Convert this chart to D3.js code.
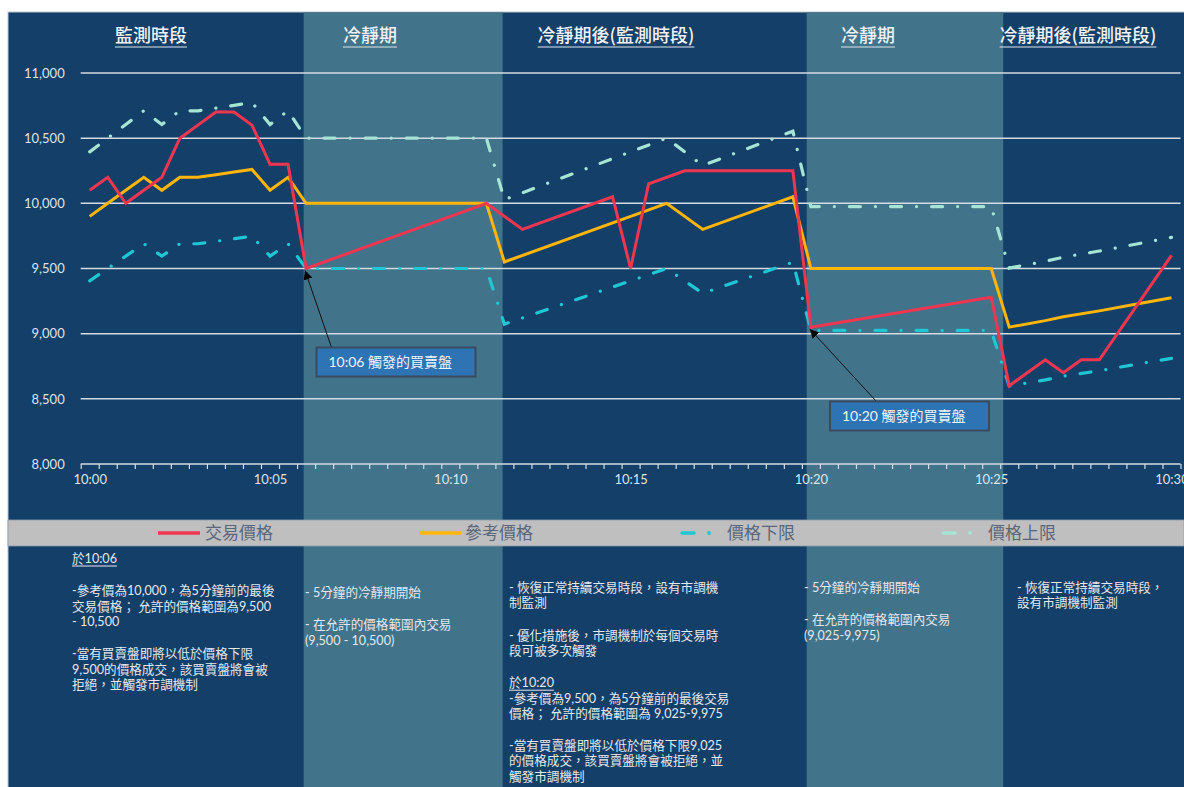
<!DOCTYPE html>
<html>
<head>
<meta charset="utf-8">
<script src="https://cdn.jsdelivr.net/npm/d3@7"></script>
<style>
  body { margin: 0; background: #fff; }
  svg { display: block; }
</style>
</head>
<body>
<svg width="1184" height="787"></svg>
<script>

// ---- data ----
var tradeTimes = ["10:00:00","10:00:30","10:01:00","10:01:30","10:02:00","10:02:30","10:03:00","10:03:30","10:04:00","10:04:30","10:05:00","10:05:30","10:06:00",
                  "10:11:00","10:12:00","10:14:30","10:15:00","10:15:30","10:16:30","10:19:30","10:20:00",
                  "10:25:00","10:25:30","10:26:30","10:27:00","10:27:30","10:28:00","10:30:00"];
var tradePrices = [10100,10200,10000,10100,10200,10500,10600,10700,10700,10600,10300,10300,9500,
                   10000,9800,10050,9500,10150,10250,10250,9050,
                   9280,8600,8800,8700,8800,8800,9600];

var refTimes = ["10:00:00","10:00:30","10:01:00","10:01:30","10:02:00","10:02:30","10:03:00","10:03:30","10:04:00","10:04:30","10:05:00","10:05:30","10:06:00",
                "10:11:00","10:11:30","10:16:00","10:17:00","10:19:30","10:20:00",
                "10:25:00","10:25:30","10:26:30","10:27:00","10:28:00","10:29:00","10:30:00"];
var refPrices = [9900,10000,10100,10200,10100,10200,10200,10220,10240,10260,10100,10200,10000,
                 10000,9550,10000,9800,10050,9500,
                 9500,9050,9100,9130,9175,9225,9275];
var lowerPrices = [9405,9500,9595,9690,9595,9690,9690,9709,9728,9747,9595,9690,9500,
                   9500,9073,9500,9310,9548,9025,
                   9025,8598,8645,8674,8716,8764,8811];
var upperPrices = [10395,10500,10605,10710,10605,10710,10710,10731,10752,10773,10605,10710,10500,
                   10500,10028,10500,10290,10553,9975,
                   9975,9503,9555,9587,9634,9686,9739];

var yTicks = [8000,8500,9000,9500,10000,10500,11000];
var xTickTimes = ["10:00:00","10:05:00","10:10:00","10:15:00","10:20:00","10:25:00","10:30:00"];
var xTickLabels = ["10:00","10:05","10:10","10:15","10:20","10:25","10:30"];

// cooling periods (shaded)
var coolStart = ["10:05:56","10:19:53"];
var coolEnd   = ["10:11:27","10:25:20"];

var headers = ["監測時段","冷靜期","冷靜期後(監測時段)","冷靜期","冷靜期後(監測時段)"];
var headerX = [151, 370, 616, 868, 1078];

var seriesNames = ["交易價格","參考價格","價格下限","價格上限"];
var seriesColors = ["#ee3650","#ffb50a","#1fc6d4","#a6e4d4"];

var notes = [
  ["於10:06", "", "-參考價為10,000，為5分鐘前的最後", "交易價格； 允許的價格範圍為9,500", "- 10,500", "",
   "-當有買賣盤即將以低於價格下限", "9,500的價格成交，該買賣盤將會被", "拒絕，並觸發市調機制"],
  ["- 5分鐘的冷靜期開始", "", "- 在允許的價格範圍內交易", "(9,500 - 10,500)"],
  ["- 恢復正常持續交易時段，設有市調機", "制監測", "", "- 優化措施後，市調機制於每個交易時", "段可被多次觸發", "",
   "於10:20", "-參考價為9,500，為5分鐘前的最後交易", "價格； 允許的價格範圍為 9,025-9,975", "",
   "-當有買賣盤即將以低於價格下限9,025", "的價格成交，該買賣盤將會被拒絕，並", "觸發市調機制"],
  ["- 5分鐘的冷靜期開始", "", "- 在允許的價格範圍內交易", "(9,025-9,975)"],
  ["- 恢復正常持續交易時段，", "設有市調機制監測"]
];
var noteX = [72, 305, 509, 804, 1017];
var noteY = [563, 597, 592, 592, 592];

var callouts = ["10:06 觸發的買賣盤", "10:20 觸發的買賣盤"];
var calloutTimes = ["10:06:00", "10:20:00"];

// ---- helpers ----
function mins(s) {
  var p = s.split(":");
  return (+p[0] - 10) * 60 + (+p[1]) + (+p[2]) / 60;
}
function zip(times, vals) {
  return times.map(function(t, i) { return { t: mins(t), v: vals[i] }; });
}

var svg = d3.select("svg");
var dark = "#143f68", light = "#41738a";
var cjk = "'Noto Sans CJK TC', sans-serif";
var latin = "Lato, 'Noto Sans CJK TC', sans-serif";

var x = d3.scaleLinear().domain([-0.25, 30.25]).range([80.7, 1180.5]);
var y = d3.scaleLinear().domain([8000, 11000]).range([464, 73]);

// white page + panel
svg.append("rect").attr("width", 1184).attr("height", 787).attr("fill", "#fff");
svg.append("rect").attr("x", 8).attr("y", 12).attr("width", 1180).attr("height", 780)
  .attr("fill", dark).attr("stroke", "#b9c3cd").attr("stroke-width", 1);

// shaded cooling periods
svg.selectAll("rect.cool").data(coolStart).enter().append("rect")
  .attr("class", "cool")
  .attr("x", function(d) { return x(mins(d)); })
  .attr("y", 12.5)
  .attr("width", function(d, i) { return x(mins(coolEnd[i])) - x(mins(d)); })
  .attr("height", 780)
  .attr("fill", light);

// headers
svg.selectAll("text.hdr").data(headers).enter().append("text")
  .attr("class", "hdr")
  .attr("x", function(d, i) { return headerX[i]; })
  .attr("y", 42)
  .attr("text-anchor", "middle")
  .style("font-family", cjk).style("font-size", "18px").style("font-weight", 500)
  .attr("fill", "#eef2f6")
  .text(function(d) { return d; })
  .each(function() {
    var b = this.getBBox();
    svg.append("line").attr("x1", b.x).attr("x2", b.x + b.width)
      .attr("y1", 47).attr("y2", 47).attr("stroke", "#dfe5ec").attr("stroke-width", 1.2);
  });

// gridlines
svg.selectAll("line.grid").data(yTicks.slice(1)).enter().append("line")
  .attr("class", "grid")
  .attr("x1", x.range()[0]).attr("x2", x.range()[1])
  .attr("y1", function(d) { return y(d); }).attr("y2", function(d) { return y(d); })
  .attr("stroke", "#d3dbe3").attr("stroke-width", 1.5);

// y axis labels
var yAxis = svg.append("g").attr("transform", "translate(" + x.range()[0] + ",0)")
  .call(d3.axisLeft(y).tickValues(yTicks).tickSize(0).tickPadding(16).tickFormat(d3.format(",")));
yAxis.select(".domain").remove();
yAxis.selectAll("text").attr("fill", "#dde4ec").style("font-family", latin).style("font-size", "13px");

// x axis: ticks at every half-minute boundary
var bounds = d3.range(0, 62).map(function(k) { return -0.25 + 0.5 * k; });
var xAxis = svg.append("g").attr("transform", "translate(0," + y(8000) + ")")
  .call(d3.axisBottom(x).tickValues(bounds).tickSize(5).tickFormat(""));
xAxis.select(".domain").attr("stroke", "#d3dbe3").attr("stroke-width", 1.5).attr("d", "M" + x.range()[0] + ",0H" + x.range()[1]);
xAxis.selectAll(".tick line").attr("stroke", "#d3dbe3").attr("stroke-width", 1.2);

var xLab = svg.append("g").attr("transform", "translate(0," + y(8000) + ")")
  .call(d3.axisBottom(x).tickValues(xTickTimes.map(mins)).tickSize(0).tickPadding(11)
    .tickFormat(function(d, i) { return xTickLabels[i]; }));
xLab.select(".domain").remove();
xLab.selectAll("text").attr("fill", "#dde4ec").style("font-family", latin).style("font-size", "13px");

// series
var line = d3.line().x(function(d) { return x(d.t); }).y(function(d) { return y(d.v); });
var series = [
  zip(tradeTimes, tradePrices),
  zip(refTimes, refPrices),
  zip(refTimes, lowerPrices),
  zip(refTimes, upperPrices)
];
var dashed = [false, false, true, true];

// draw limits first, then reference, then trade
[3, 2, 1, 0].forEach(function(i) {
  svg.append("path")
    .datum(series[i])
    .attr("d", line)
    .attr("fill", "none")
    .attr("stroke", seriesColors[i])
    .attr("stroke-width", dashed[i] ? 3.2 : 3)
    .attr("stroke-linejoin", "miter")
    .attr("stroke-linecap", dashed[i] ? "round" : "butt")
    .attr("stroke-dasharray", dashed[i] ? "11,15,0.1,15" : null);
});

// callouts
var defs = svg.append("defs");
defs.append("marker").attr("id", "arr").attr("viewBox", "0 0 10 10")
  .attr("refX", 10).attr("refY", 5).attr("markerWidth", 9).attr("markerHeight", 9)
  .attr("orient", "auto").attr("markerUnits", "userSpaceOnUse")
  .append("path").attr("d", "M0,0L10,5L0,10z").attr("fill", "#000");

var boxX = [316.5, 830], boxY = [347.5, 401.5], boxW = 159, boxH = 29;
var anchorX = [331.5, 876.5];
callouts.forEach(function(txt, i) {
  var t = mins(calloutTimes[i]);
  var pt = series[0].filter(function(d) { return d.t === t; })[0];
  svg.append("line")
    .attr("x1", anchorX[i]).attr("y1", boxY[i])
    .attr("x2", x(pt.t) - 1).attr("y2", y(pt.v) + 2)
    .attr("stroke", "#111").attr("stroke-width", 1)
    .attr("marker-end", "url(#arr)");
  svg.append("rect").attr("x", boxX[i]).attr("y", boxY[i]).attr("width", boxW).attr("height", boxH)
    .attr("fill", "#2e74b5").attr("stroke", "#3a4b5e").attr("stroke-width", 2);
  svg.append("text").attr("x", boxX[i] + 12).attr("y", boxY[i] + boxH / 2 + 5)
    .style("font-family", latin).style("font-size", "14px").attr("fill", "#eef3f8")
    .text(txt);
});

// legend band
svg.append("rect").attr("x", 8).attr("y", 520).attr("width", 1176).attr("height", 26)
  .attr("fill", "#bfbfbf").attr("stroke", "#8d9cab").attr("stroke-width", 0.8);

var legSymX = [158, 419, 680, 941];
var legTextX = [205, 465, 727, 988];
var legY = 533;
seriesNames.forEach(function(name, i) {
  if (!dashed[i]) {
    svg.append("line").attr("x1", legSymX[i]).attr("x2", legSymX[i] + 42)
      .attr("y1", legY).attr("y2", legY)
      .attr("stroke", seriesColors[i]).attr("stroke-width", 3.5);
  } else {
    svg.append("line").attr("x1", legSymX[i] + 2).attr("x2", legSymX[i] + 14)
      .attr("y1", legY).attr("y2", legY)
      .attr("stroke", seriesColors[i]).attr("stroke-width", 3.5).attr("stroke-linecap", "round");
    svg.append("circle").attr("cx", legSymX[i] + 29).attr("cy", legY).attr("r", 1.9)
      .attr("fill", seriesColors[i]);
  }
  svg.append("text").attr("x", legTextX[i]).attr("y", legY + 6)
    .style("font-family", cjk).style("font-size", "17px")
    .attr("fill", "#5a6679").text(name);
});

// notes under the chart
var lineH = 15.3, blankH = 17;
notes.forEach(function(lines, i) {
  var yy = noteY[i];
  lines.forEach(function(s, j) {
    if (j > 0) yy += (lines[j - 1] === "" ? blankH : lineH);
    if (s === "") return;
    var tx = svg.append("text").attr("x", noteX[i]).attr("y", yy)
      .style("font-family", latin).style("font-size", "12.6px")
      .attr("fill", "#e3e9f0").text(s);
    if (s.indexOf("於10:") === 0) {
      var b = tx.node().getBBox();
      svg.append("line").attr("x1", b.x).attr("x2", b.x + b.width)
        .attr("y1", yy + 3).attr("y2", yy + 3).attr("stroke", "#e3e9f0").attr("stroke-width", 1);
    }
  });
});

</script>
</body>
</html>
